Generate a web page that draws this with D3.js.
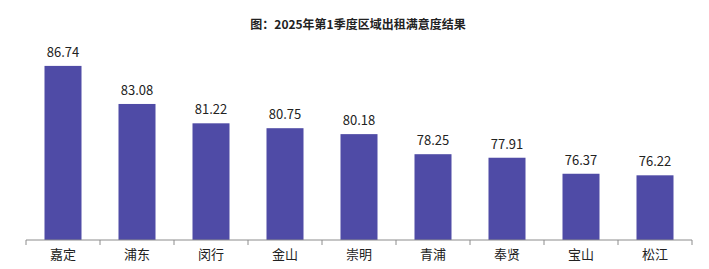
<!DOCTYPE html>
<html>
<head>
<meta charset="utf-8">
<script src="https://cdn.jsdelivr.net/npm/d3@7"></script>
<style>
  body { margin: 0; background: #fff; }
  text { font-family: "Noto Sans CJK SC", "Liberation Sans", sans-serif; }
</style>
</head>
<body>
<div id="chart"></div>
<script>
// Data
const districts = ["嘉定", "浦东", "闵行", "金山", "崇明", "青浦", "奉贤", "宝山", "松江"];
const scores = [86.74, 83.08, 81.22, 80.75, 80.18, 78.25, 77.91, 76.37, 76.22];
const title = "图：2025年第1季度区域出租满意度结果";

const margin = {top: 32, right: 17, bottom: 29, left: 26},
    width = 709 - margin.left - margin.right,
    height = 269 - margin.top - margin.bottom;

const svg = d3.select("#chart")
  .append("svg")
    .attr("width", width + margin.left + margin.right)
    .attr("height", height + margin.top + margin.bottom)
  .append("g")
    .attr("transform", `translate(${margin.left},${margin.top})`);

// X axis
const x = d3.scaleBand()
  .domain(districts)
  .range([0, width])
  .paddingInner(0.5)
  .paddingOuter(0.25);

// Y scale (axis hidden)
const y = d3.scaleLinear()
  .domain([70, 90])
  .range([height, 0]);

// Bars
svg.append("g")
  .selectAll("rect")
  .data(scores)
  .join("rect")
    .attr("x", (d, i) => x(districts[i]))
    .attr("y", d => y(d))
    .attr("width", x.bandwidth())
    .attr("height", d => height - y(d))
    .style("fill", "#4f4ba6");

// Value labels
svg.append("g")
  .selectAll("text")
  .data(scores)
  .join("text")
    .attr("x", (d, i) => x(districts[i]) + x.bandwidth() / 2)
    .attr("y", d => y(d) - 9)
    .attr("text-anchor", "middle")
    .style("font-size", "13px")
    .style("fill", "#222")
    .text(d => d.toFixed(2));

// Axis line with ticks between categories
const step = x.step();
const ax = svg.append("g").attr("transform", `translate(0, ${height})`);
ax.append("line")
  .attr("x1", 0).attr("x2", width)
  .attr("y1", 0).attr("y2", 0)
  .attr("stroke", "#8c8c8c");
ax.selectAll(".tick")
  .data(d3.range(districts.length + 1))
  .join("line")
    .attr("x1", i => i * step).attr("x2", i => i * step)
    .attr("y1", 0).attr("y2", 5)
    .attr("stroke", "#8c8c8c");
ax.selectAll(".lbl")
  .data(districts)
  .join("text")
    .attr("x", d => x(d) + x.bandwidth() / 2)
    .attr("y", 19)
    .attr("text-anchor", "middle")
    .style("font-size", "13px")
    .style("fill", "#222")
    .text(d => d);

// Title
svg.append("text")
  .attr("x", 358 - margin.left)
  .attr("y", 29 - margin.top)
  .attr("text-anchor", "middle")
  .style("font-size", "12px")
  .style("font-weight", "bold")
  .style("fill", "#222")
  .text(title);
</script>
</body>
</html>
